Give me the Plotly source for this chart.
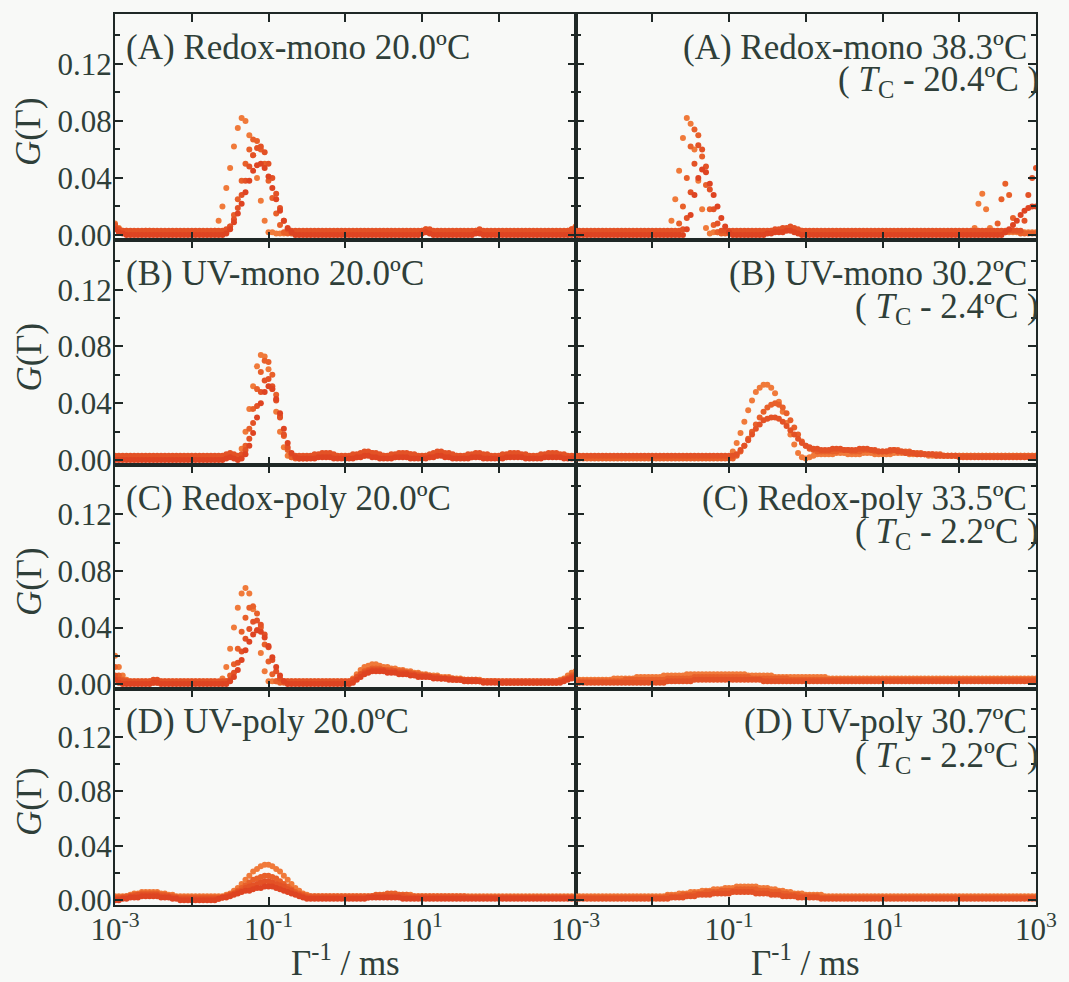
import plotly.graph_objects as go

# ---------------- data ----------------
# common grid: log10 of Gamma^-1 / ms
LOG_X = [
    -3.00, -2.95, -2.90, -2.85, -2.80, -2.75, -2.70, -2.65, -2.60, -2.55,
    -2.50, -2.45, -2.40, -2.35, -2.30, -2.25, -2.20, -2.15, -2.10, -2.05,
    -2.00, -1.95, -1.90, -1.85, -1.80, -1.75, -1.70, -1.65, -1.60, -1.55,
    -1.50, -1.45, -1.40, -1.35, -1.30, -1.25, -1.20, -1.15, -1.10, -1.05,
    -1.00, -0.95, -0.90, -0.85, -0.80, -0.75, -0.70, -0.65, -0.60, -0.55,
    -0.50, -0.45, -0.40, -0.35, -0.30, -0.25, -0.20, -0.15, -0.10, -0.05,
    0.00, 0.05, 0.10, 0.15, 0.20, 0.25, 0.30, 0.35, 0.40, 0.45,
    0.50, 0.55, 0.60, 0.65, 0.70, 0.75, 0.80, 0.85, 0.90, 0.95,
    1.00, 1.05, 1.10, 1.15, 1.20, 1.25, 1.30, 1.35, 1.40, 1.45,
    1.50, 1.55, 1.60, 1.65, 1.70, 1.75, 1.80, 1.85, 1.90, 1.95,
    2.00, 2.05, 2.10, 2.15, 2.20, 2.25, 2.30, 2.35, 2.40, 2.45,
    2.50, 2.55, 2.60, 2.65, 2.70, 2.75, 2.80, 2.85, 2.90, 2.95,
    3.00]

# G(Gamma) values below are in units of 1e-3
# (A) Redox-mono 20.0 C
A_L1 = [8,5,3,3,2,2,2,2,3,3,2,2,2,2,2,2,2,2,2,2,
        2,2,2,2,2,1,3,10,20,33,47,62,75,82,80,70,56,40,24,10,
        2,2,1,1,1,2,2,2,2,2,2,2,2,2,2,2,2,2,2,2,
        2,2,2,2,2,2,2,2,2,2,2,2,2,2,2,2,2,2,2,2,
        3,4,3,2,2,2,2,2,2,2,2,2,2,2,3,3,2,2,2,2,
        2,2,2,2,2,2,2,2,2,2,2,2,2,2,2,2,2,2,3,4,
        6]
A_L2 = [6,4,2,2,1,1,1,1,2,2,1,1,1,1,1,1,1,1,1,1,
        1,1,1,1,1,1,1,1,1,2,6,14,25,38,50,60,67,66,60,50,
        38,26,15,7,2,1,1,1,1,1,1,1,1,1,1,1,1,1,1,1,
        1,1,1,1,1,1,1,1,1,1,1,1,1,1,1,1,1,1,1,1,
        2,3,2,1,1,1,1,1,1,1,1,1,1,1,2,2,1,1,1,1,
        1,1,1,1,1,1,1,1,1,1,1,1,1,1,1,1,1,1,2,3,
        5]
A_L3 = [7,4,3,3,3,3,3,3,3,3,3,3,3,3,3,3,3,3,3,3,
        3,3,3,3,3,3,3,3,3,4,6,11,19,28,38,48,56,61,62,58,
        50,40,29,19,10,4,3,3,3,3,3,3,3,3,3,3,3,3,3,3,
        3,3,3,3,3,3,3,3,3,3,3,3,3,3,3,3,3,3,3,3,
        3,4,4,3,3,3,3,3,3,3,3,3,3,3,3,4,3,3,3,3,
        3,3,3,3,3,3,3,3,3,3,3,3,3,3,3,3,3,3,3,4,
        5]
A_L4 = [4,2,1,0,0,0,0,0,0,0,0,0,0,0,0,0,0,0,0,0,
        0,0,0,0,0,0,0,0,0,1,4,9,15,22,30,38,45,49,50,47,
        41,33,25,17,10,5,2,0,0,0,0,0,0,0,0,0,0,0,0,0,
        0,0,0,0,0,0,0,0,0,0,0,0,0,0,0,0,0,0,0,0,
        1,2,1,0,0,0,0,0,0,0,0,0,0,0,1,1,0,0,0,0,
        0,0,0,0,0,0,0,0,0,0,0,0,0,0,0,0,0,0,0,0,
        2]
# (A) Redox-mono 38.3 C
A_R1 = [2,2,2,2,2,2,2,2,2,2,2,2,2,2,2,2,2,2,2,2,
        2,2,2,2,2,10,25,45,68,82,78,60,38,18,5,1,2,2,2,2,
        2,2,2,2,2,2,2,2,2,2,2,3,3,3,4,4,5,4,3,3,
        2,2,2,2,2,2,2,2,2,2,2,2,2,2,2,2,2,2,2,2,
        2,2,2,2,2,2,2,2,2,2,2,2,2,2,2,2,2,2,2,2,
        2,2,2,2,5,22,29,18,5,2,2,2,2,2,2,2,2,2,2,2,
        2]
A_R2 = [1,1,1,1,1,1,1,1,1,1,1,1,1,1,1,1,1,1,1,1,
        1,1,1,1,1,1,2,8,20,40,62,74,70,55,35,18,7,2,1,1,
        1,1,1,1,1,1,1,1,1,1,2,2,3,3,3,4,4,3,2,2,
        1,1,1,1,1,1,1,1,1,1,1,1,1,1,1,1,1,1,1,1,
        1,1,1,1,1,1,1,1,1,1,1,1,1,1,1,1,1,1,1,1,
        1,1,1,1,1,1,1,1,1,1,8,25,36,28,12,3,1,1,1,1,
        1]
A_R3 = [3,3,3,3,3,3,3,3,3,3,3,3,3,3,3,3,3,3,3,3,
        3,3,3,3,3,3,3,3,4,12,30,50,63,60,48,32,18,8,3,3,
        3,3,3,3,3,3,3,3,3,3,3,3,4,4,5,5,6,5,4,3,
        3,3,3,3,3,3,3,3,3,3,3,3,3,3,3,3,3,3,3,3,
        3,3,3,3,3,3,3,3,3,3,3,3,3,3,3,3,3,3,3,3,
        3,3,3,3,3,3,3,3,3,3,3,3,3,3,3,3,3,10,28,40,
        47]
A_R4 = [0,0,0,0,0,0,0,0,0,0,0,0,0,0,0,0,0,0,0,0,
        0,0,0,0,0,0,0,0,0,4,14,28,40,46,44,36,28,20,12,6,
        2,0,0,0,0,0,0,0,0,0,1,1,2,2,2,3,3,2,1,0,
        0,0,0,0,0,0,0,0,0,0,0,0,0,0,0,0,0,0,0,0,
        0,0,0,0,0,0,0,0,0,0,0,0,0,0,0,0,0,0,0,0,
        0,0,0,0,0,0,0,0,0,0,0,0,2,4,7,10,14,17,19,20,
        20]
# (B) UV-mono 20.0 C
B_L1 = [2,2,2,2,2,2,2,2,2,2,2,2,2,2,2,2,2,2,2,2,
        2,2,2,2,2,2,2,2,2,3,4,3,2,8,20,36,52,66,74,73,
        64,50,34,20,9,3,2,2,2,2,2,2,2,3,3,3,3,2,2,2,
        2,2,2,2,3,3,4,4,3,3,2,2,2,2,3,3,3,3,2,2,
        2,2,2,3,3,4,4,3,3,2,2,2,2,2,3,3,3,2,2,2,
        2,2,2,3,3,3,3,2,2,2,2,2,3,3,3,3,3,2,2,2,
        2]
B_L2 = [1,1,1,1,1,1,1,1,1,1,1,1,1,1,1,1,1,1,1,1,
        1,1,1,1,1,1,1,1,1,2,3,2,1,3,10,22,36,50,62,70,
        69,60,46,31,17,7,2,1,1,1,1,2,2,3,3,4,4,3,2,2,
        2,2,3,3,4,4,5,5,4,3,3,2,2,3,3,4,4,4,3,2,
        2,3,3,4,5,5,4,4,3,3,2,2,3,3,4,4,3,3,2,2,
        2,3,3,4,4,4,3,3,2,2,2,3,3,4,4,4,3,3,2,2,
        2]
B_L3 = [3,3,3,3,3,3,3,3,3,3,3,3,3,3,3,3,3,3,3,3,
        3,3,3,3,3,3,3,3,3,4,5,4,3,4,7,15,26,38,48,56,
        57,52,42,30,18,9,4,3,3,3,3,3,4,4,5,5,5,4,3,3,
        3,3,4,4,5,6,6,5,5,4,3,3,4,4,5,5,5,4,4,3,
        3,3,4,5,6,6,5,5,4,3,3,3,4,4,5,5,4,4,3,3,
        3,4,4,5,5,5,4,4,3,3,3,4,4,5,5,5,4,4,3,3,
        3]
B_L4 = [0,0,0,0,0,0,0,0,0,0,0,0,0,0,0,0,0,0,0,0,
        0,0,0,0,0,0,0,0,0,1,2,1,0,1,4,10,19,30,40,48,
        52,50,43,33,22,12,5,2,1,1,1,1,1,2,2,2,2,1,1,1,
        1,1,1,2,2,3,3,2,2,1,1,1,1,2,2,2,2,1,1,1,
        1,1,2,2,3,3,2,2,1,1,1,1,1,2,2,2,1,1,1,1,
        1,1,2,2,2,2,2,1,1,1,1,1,2,2,2,2,2,1,1,1,
        1]
# (B) UV-mono 30.2 C
B_R1 = [2,2,2,2,2,2,2,2,2,2,2,2,2,2,2,2,2,2,2,2,
        2,2,2,2,2,2,2,2,2,2,2,2,2,2,2,2,2,2,2,2,
        2,6,12,19,27,35,42,48,51,53,53,51,47,41,34,26,18,11,5,2,
        1,2,3,4,4,4,4,4,5,5,5,4,4,4,4,5,5,5,4,4,
        4,4,4,5,5,5,5,4,4,4,4,4,3,3,3,3,3,3,3,3,
        3,3,3,3,3,3,3,3,3,3,3,3,3,3,3,3,3,3,3,3,
        3]
B_R2 = [1,1,1,1,1,1,1,1,1,1,1,1,1,1,1,1,1,1,1,1,
        1,1,1,1,1,1,1,1,1,1,1,1,1,1,1,1,1,1,1,1,
        1,1,3,6,10,15,20,25,30,34,37,39,40,39,37,33,28,23,18,13,
        10,8,7,6,6,6,6,6,6,7,7,7,6,6,6,7,7,7,6,6,
        6,6,6,7,7,6,6,6,5,5,5,4,4,4,4,4,3,3,3,3,
        3,3,3,3,3,3,3,3,3,3,3,3,3,3,3,3,3,3,3,3,
        3]
B_R3 = [3,3,3,3,3,3,3,3,3,3,3,3,3,3,3,3,3,3,3,3,
        3,3,3,3,3,3,3,3,3,3,3,3,3,3,3,3,3,3,3,3,
        3,3,4,7,10,14,18,22,25,28,29,30,30,29,27,24,21,18,15,12,
        10,9,8,8,7,7,7,8,8,8,7,7,7,7,8,8,8,7,7,6,
        6,6,7,7,6,6,5,5,5,4,4,4,4,4,3,3,3,3,3,3,
        2,2,2,2,2,2,2,2,2,2,2,2,2,2,2,2,2,2,2,2,
        2]
# (C) Redox-poly 20.0 C
C_L1 = [20,12,6,3,2,2,2,2,2,2,2,2,2,2,2,2,2,2,2,2,
        2,2,2,2,2,2,2,1,4,12,25,40,54,64,68,64,53,38,22,9,
        2,2,2,2,2,2,2,2,2,2,2,2,2,2,2,2,2,2,2,2,
        2,2,4,7,10,12,13,14,14,13,12,12,11,11,10,10,9,9,8,8,
        7,7,6,6,6,5,5,5,4,4,4,3,3,3,3,3,2,2,2,2,
        2,2,2,2,2,2,2,2,2,2,2,2,2,2,2,2,3,4,6,8,
        9]
C_L2 = [12,6,3,2,1,1,1,1,1,1,1,1,1,1,1,1,1,1,1,1,
        1,1,1,1,1,1,1,1,1,2,6,14,25,37,47,54,55,50,40,28,
        16,7,2,1,1,1,1,1,1,1,1,1,1,1,1,1,1,1,1,1,
        1,1,2,4,7,9,10,11,11,11,10,10,10,9,9,9,8,8,7,7,
        6,6,6,5,5,4,4,4,3,3,3,3,2,2,2,2,2,2,2,2,
        1,1,1,1,1,1,1,1,1,1,1,1,1,1,1,1,2,3,4,6,
        7]
C_L3 = [6,3,2,2,2,2,2,2,2,2,3,3,2,2,2,2,2,2,2,2,
        2,2,2,2,2,2,2,2,2,2,3,8,15,23,32,39,44,45,42,35,
        26,17,9,4,2,2,2,2,2,2,2,2,2,2,2,2,2,2,2,2,
        2,2,3,5,7,8,9,10,10,10,10,9,9,9,8,8,8,7,7,6,
        6,6,5,5,5,4,4,4,4,3,3,3,3,3,3,2,2,2,2,2,
        2,2,2,2,2,2,2,2,2,2,2,2,2,2,2,2,2,3,4,5,
        6]
C_L4 = [3,1,0,0,0,0,0,0,0,0,1,1,0,0,0,0,0,0,0,0,
        0,0,0,0,0,0,0,0,0,0,2,5,10,17,24,30,35,38,37,33,
        27,19,12,6,2,0,0,0,0,0,0,0,0,0,0,0,0,0,0,0,
        0,0,1,3,5,7,8,9,9,9,9,8,8,8,7,7,7,6,6,5,
        5,5,5,4,4,4,4,3,3,3,3,2,2,2,2,2,1,1,1,1,
        1,1,1,1,1,1,1,1,1,1,1,1,1,1,1,1,1,2,3,4,
        5]
# (C) Redox-poly 33.5 C
C_R1 = [3,3,3,3,3,3,3,3,3,3,4,4,4,4,4,4,5,5,5,5,
        5,5,5,6,6,6,6,6,6,7,7,7,7,7,7,7,7,7,7,7,
        7,7,7,7,7,6,6,6,6,6,6,6,5,5,5,5,5,5,5,5,
        5,5,5,5,5,5,4,4,4,4,4,4,4,4,4,4,4,4,4,4,
        4,4,4,4,4,4,4,4,4,4,4,4,4,4,4,4,4,4,4,4,
        4,4,4,4,4,4,4,4,4,4,4,4,4,4,4,4,4,4,4,4,
        4]
C_R2 = [2,2,2,2,2,2,2,2,2,2,2,2,2,3,3,3,3,3,3,3,
        3,3,3,3,4,4,4,4,4,4,4,5,5,5,5,5,5,5,5,5,
        5,5,5,5,5,5,4,4,4,4,4,4,4,4,4,4,3,3,3,3,
        3,3,3,3,3,3,3,3,3,3,3,3,3,3,3,3,3,3,3,3,
        3,3,3,3,3,3,3,3,3,3,3,3,3,3,3,3,3,3,3,3,
        3,3,3,3,3,3,3,3,3,3,3,3,3,3,3,3,3,3,3,3,
        3]
C_R3 = [1,1,1,1,1,1,1,1,1,1,1,1,1,1,1,1,1,1,1,1,
        1,1,1,1,2,2,2,2,2,2,2,3,3,3,3,3,3,3,3,3,
        3,3,3,3,3,3,3,3,3,2,2,2,2,2,2,2,2,2,2,2,
        2,2,2,2,2,2,2,2,2,2,2,2,2,2,2,2,2,2,2,2,
        2,2,2,2,2,2,2,2,2,2,2,2,2,2,2,2,2,2,2,2,
        2,2,2,2,2,2,2,2,2,2,2,2,2,2,2,2,2,2,2,2,
        2]
# (D) UV-poly 20.0 C
D_L1 = [3,3,3,3,4,5,5,6,6,6,6,6,5,5,4,4,3,3,3,3,
        3,3,3,3,3,3,3,3,3,4,5,7,9,12,15,18,21,23,25,26,
        26,25,23,21,18,15,12,9,7,5,4,3,3,3,3,3,3,3,3,3,
        3,3,3,3,3,3,3,3,3,3,4,4,4,4,4,4,4,4,3,3,
        3,3,3,3,3,3,3,3,3,3,3,3,3,3,3,3,3,3,3,3,
        3,3,3,3,3,3,3,3,3,3,3,3,3,3,3,3,3,3,3,3,
        3]
D_L2 = [2,2,2,3,3,4,4,5,5,5,5,5,4,4,3,3,2,2,2,2,
        2,2,2,2,2,2,2,2,2,3,4,5,7,9,11,13,15,16,17,18,
        18,17,16,14,12,10,8,6,5,4,3,3,3,3,3,3,3,3,3,3,
        3,3,3,3,3,3,3,3,4,4,4,5,5,5,4,4,4,3,3,3,
        3,3,3,3,3,3,3,3,3,3,3,3,2,2,2,2,2,2,2,2,
        2,2,2,2,2,2,2,2,2,2,2,2,2,2,2,2,2,2,2,2,
        2]
D_L3 = [1,1,2,2,3,3,4,4,4,4,4,4,3,3,3,2,2,1,1,1,
        1,1,1,1,1,1,1,1,2,3,4,5,6,7,9,10,11,12,13,14,
        14,13,12,11,10,8,7,5,4,3,2,2,2,2,2,2,2,2,2,2,
        2,2,2,2,2,2,2,3,3,3,3,3,3,3,3,3,2,2,2,2,
        2,2,2,2,2,2,2,2,2,2,2,2,2,2,2,2,2,2,2,2,
        2,2,2,2,2,2,2,2,2,2,2,2,2,2,2,2,2,2,2,2,
        2]
D_L4 = [0,0,1,1,2,2,2,3,3,3,3,3,2,2,2,1,1,0,0,0,
        0,0,0,0,0,0,0,1,2,2,3,4,5,6,7,7,8,9,9,10,
        10,10,9,8,7,6,5,4,3,2,1,1,1,1,1,1,1,1,1,1,
        1,1,1,1,1,1,2,2,2,2,2,2,2,2,2,1,1,1,1,1,
        1,1,1,1,1,1,1,1,1,1,1,1,1,1,1,1,1,1,1,1,
        1,1,1,1,1,1,1,1,1,1,1,1,1,1,1,1,1,1,1,1,
        1]
# (D) UV-poly 30.7 C
D_R1 = [3,3,3,3,3,3,3,3,3,3,3,3,3,3,3,3,3,3,3,3,
        3,3,3,3,4,4,4,5,5,5,6,6,6,7,7,7,8,8,8,9,
        9,9,10,10,10,10,10,10,9,9,9,8,8,7,7,6,6,5,5,5,
        4,4,4,4,4,3,3,3,3,3,3,3,3,3,3,3,3,3,3,3,
        3,3,3,3,3,3,3,3,3,3,3,3,3,3,3,3,3,3,3,3,
        3,3,3,3,3,3,3,3,3,3,3,3,3,3,3,3,3,3,3,3,
        3]
D_R2 = [2,2,2,2,2,2,2,2,2,2,2,2,2,2,2,2,2,2,2,2,
        2,2,2,2,3,3,3,3,4,4,4,5,5,5,6,6,6,6,7,7,
        7,7,8,8,8,8,8,8,7,7,7,6,6,6,5,5,4,4,4,3,
        3,3,3,3,2,2,2,2,2,2,2,2,2,2,2,2,2,2,2,2,
        2,2,2,2,2,2,2,2,2,2,2,2,2,2,2,2,2,2,2,2,
        2,2,2,2,2,2,2,2,2,2,2,2,2,2,2,2,2,2,2,2,
        2]
D_R3 = [1,1,1,1,1,1,1,1,1,1,1,1,1,1,1,1,1,1,1,1,
        1,1,1,1,1,2,2,2,2,3,3,3,4,4,4,4,5,5,5,5,
        5,6,6,6,6,6,6,5,5,5,5,4,4,4,3,3,3,3,2,2,
        2,2,2,2,1,1,1,1,1,1,1,1,1,1,1,1,1,1,1,1,
        1,1,1,1,1,1,1,1,1,1,1,1,1,1,1,1,1,1,1,1,
        1,1,1,1,1,1,1,1,1,1,1,1,1,1,1,1,1,1,1,1,
        1]

LEFT_LABELS = ["(A) Redox-mono 20.0ºC", "(B) UV-mono 20.0ºC",
               "(C) Redox-poly 20.0ºC", "(D) UV-poly 20.0ºC"]
RIGHT_LABELS = ["(A) Redox-mono 38.3ºC", "(B) UV-mono 30.2ºC",
                "(C) Redox-poly 33.5ºC", "(D) UV-poly 30.7ºC"]
RIGHT_TC = ["20.4", "2.4", "2.2", "2.2"]

X_TICK_EXP = [-3, -2, -1, 0, 1, 2, 3]
X_LABEL_EXP_LEFT = [-3, -1, 1]
X_LABEL_EXP_RIGHT = [-3, -1, 1, 3]
Y_TICKS = [0.00, 0.04, 0.08, 0.12]
Y_TICK_TEXT = ["0.00", "0.04", "0.08", "0.12"]
Y_MINOR = [0.02, 0.06, 0.10, 0.14]

PANELS = [
    [[A_L1, A_L2, A_L3, A_L4], [A_R1, A_R2, A_R3, A_R4]],
    [[B_L1, B_L2, B_L3, B_L4], [B_R1, B_R2, B_R3]],
    [[C_L1, C_L2, C_L3, C_L4], [C_R1, C_R2, C_R3]],
    [[D_L1, D_L2, D_L3, D_L4], [D_R1, D_R2, D_R3]],
]

# ---------------- style ----------------
W, H = 1069, 982
ML, MR, MT, MB = 115, 21, 14, 77
PW, PH = W - ML - MR, H - MT - MB
ROW_EDGES = [14, 240, 465, 689, 905]   # pixel rows of panel borders
TEXT = "#2f3f39"
AXIS = "#1f2826"
BG = "#f8f9f7"
FONT = "Liberation Serif"
COLORS = ["#f07a3a", "#e8602a", "#e35226", "#de4422"]
TICK_FONT = dict(family=FONT, size=31, color=TEXT)


def pxx(px):
    return (px - ML) / PW


def pxy(py):
    return (MT + PH - py) / PH


X_VALS = [10 ** v for v in LOG_X]

fig = go.Figure()
layout = dict(
    width=W, height=H,
    margin=dict(l=ML, r=MR, t=MT, b=MB, pad=0),
    paper_bgcolor=BG, plot_bgcolor=BG,
    showlegend=False,
    font=dict(family=FONT, color=TEXT),
)
annotations = []

for r in range(4):
    top, bot = ROW_EDGES[r], ROW_EDGES[r + 1]
    for c in range(2):
        n = r * 2 + c + 1
        xa = "x" if n == 1 else f"x{n}"
        ya = "y" if n == 1 else f"y{n}"
        for k, curve in enumerate(PANELS[r][c]):
            fig.add_trace(go.Scatter(
                x=X_VALS, y=[v * 1e-3 for v in curve],
                mode="markers", xaxis=xa, yaxis=ya,
                marker=dict(size=6, color=COLORS[k % len(COLORS)]),
                hoverinfo="skip"))
        if r == 3:
            lab = X_LABEL_EXP_LEFT if c == 0 else X_LABEL_EXP_RIGHT
            major = [e for e in X_TICK_EXP if e in lab]
            minor = [e for e in X_TICK_EXP if e not in lab]
            xa_dict = dict(
                tickvals=[10 ** e for e in major],
                ticktext=[f"10<sup>{e}</sup>" for e in major],
                showticklabels=True,
                minor=dict(tickvals=[10 ** e for e in minor], ticks="inside",
                           ticklen=8, tickwidth=2, tickcolor=AXIS, showgrid=False),
            )
        else:
            xa_dict = dict(tickvals=[10 ** e for e in X_TICK_EXP], showticklabels=False)
        layout["xaxis" if n == 1 else f"xaxis{n}"] = dict(
            type="log", range=[-3, 3],
            domain=[0.0, 0.5] if c == 0 else [0.5, 1.0],
            anchor=ya,
            ticks="inside", ticklen=8, tickwidth=2, tickcolor=AXIS,
            showline=True, linewidth=2, linecolor=AXIS, mirror="ticks",
            showgrid=False, zeroline=False,
            tickfont=TICK_FONT, ticklabelstandoff=-4,
            **xa_dict,
        )
        ya_dict = dict(tickvals=Y_TICKS, showticklabels=(c == 0))
        if c == 0:
            ya_dict["ticktext"] = Y_TICK_TEXT
        layout["yaxis" if n == 1 else f"yaxis{n}"] = dict(
            range=[-0.0035, 0.155],
            domain=[pxy(bot), pxy(top)],
            anchor=xa,
            ticks="inside", ticklen=8, tickwidth=2, tickcolor=AXIS,
            minor=dict(tickvals=Y_MINOR, ticks="inside", ticklen=5,
                       tickwidth=2, tickcolor=AXIS, showgrid=False),
            showline=True, linewidth=2, linecolor=AXIS, mirror="ticks",
            showgrid=False, zeroline=False,
            tickfont=TICK_FONT, ticklabelstandoff=-5,
            **ya_dict,
        )
    # panel labels
    annotations.append(dict(
        x=pxx(124), y=pxy(top + 33), xref="paper", yref="paper",
        text=LEFT_LABELS[r], showarrow=False, xanchor="left", yanchor="middle",
        font=dict(family=FONT, size=35, color=TEXT)))
    annotations.append(dict(
        x=pxx(1041), y=pxy(top + 33), xref="paper", yref="paper",
        text=RIGHT_LABELS[r], showarrow=False, xanchor="right", yanchor="middle",
        font=dict(family=FONT, size=35, color=TEXT)))
    annotations.append(dict(
        x=pxx(1053), y=pxy(top + 68), xref="paper", yref="paper",
        text=f"( <i>T</i><sub>C</sub> - {RIGHT_TC[r]}ºC )", showarrow=False,
        xanchor="right", yanchor="middle",
        font=dict(family=FONT, size=35, color=TEXT)))
    # y axis title
    annotations.append(dict(
        x=pxx(28), y=pxy((top + bot) / 2 + 5), xref="paper", yref="paper",
        text="<i>G</i>(Γ)", showarrow=False, textangle=-90,
        xanchor="center", yanchor="middle",
        font=dict(family=FONT, size=35, color=TEXT)))

for cx in (348, 815):
    annotations.append(dict(
        x=pxx(cx), y=pxy(961), xref="paper", yref="paper",
        text="Γ<sup>-1</sup> / ms", showarrow=False,
        xanchor="center", yanchor="middle",
        font=dict(family=FONT, size=35, color=TEXT)))

layout["annotations"] = annotations
fig.update_layout(**layout)
fig.write_html("out.html")
